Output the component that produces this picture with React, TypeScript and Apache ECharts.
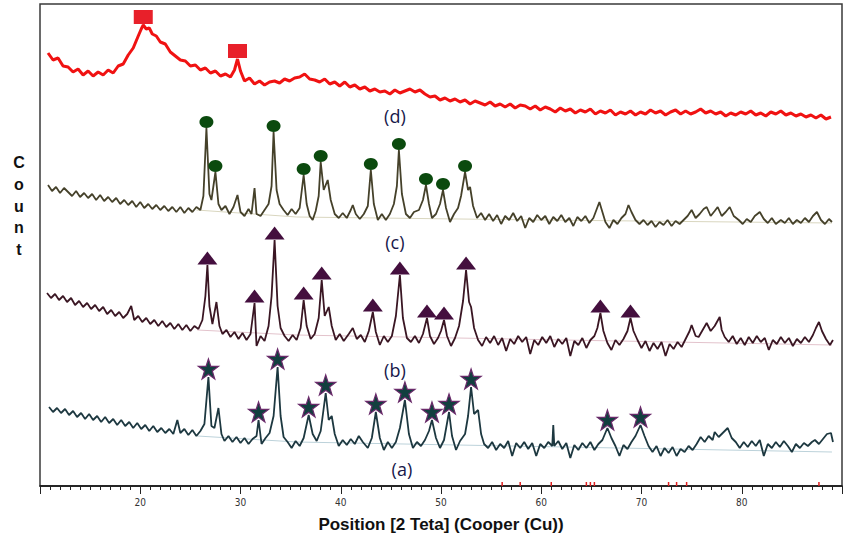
import React, { useEffect, useRef } from 'react';
import * as echarts from 'echarts';

// Counts (arbitrary units, stacked traces)
const traceD: [number, number][] = [
  [10.8, 433], [11.3, 426], [11.8, 428], [12.3, 420], [12.8, 419], [13.3, 414], [13.8, 417], [14.3, 411], [14.8, 415], [15.3, 410],
  [15.8, 414], [16.3, 411], [16.8, 416], [17.3, 413], [17.8, 420], [18.3, 422], [18.8, 431], [19.3, 438], [19.8, 450], [20.1, 457],
  [20.3, 461], [20.6, 457], [20.9, 458], [21.2, 452], [21.6, 450], [22.0, 444], [22.5, 442], [23.0, 434], [23.5, 430], [24.0, 426],
  [24.5, 425], [25.0, 420], [25.5, 421], [26.0, 416], [26.5, 418], [27.0, 413], [27.5, 415], [28.0, 410], [28.5, 412], [29.0, 409],
  [29.4, 416], [29.7, 427], [30.0, 415], [30.4, 405], [30.9, 408], [31.4, 402], [31.9, 405], [32.4, 401], [32.9, 404], [33.4, 405],
  [33.9, 403], [34.4, 407], [34.9, 405], [35.4, 408], [35.9, 409], [36.4, 412], [36.9, 407], [37.4, 406], [37.9, 404], [38.4, 407],
  [38.9, 402], [39.4, 404], [39.9, 400], [40.4, 404], [40.9, 399], [41.4, 401], [41.9, 397], [42.4, 399], [42.9, 395], [43.4, 397],
  [43.9, 394], [44.4, 395], [44.9, 392], [45.4, 396], [45.9, 393], [46.4, 395], [46.9, 397], [47.4, 394], [47.9, 396], [48.4, 392],
  [48.9, 389], [49.4, 390], [49.9, 386], [50.4, 388], [50.9, 385], [51.4, 387], [51.9, 384], [52.4, 386], [52.9, 382], [53.4, 385],
  [53.9, 383], [54.4, 381], [54.9, 384], [55.4, 380], [55.9, 382], [56.4, 379], [56.9, 382], [57.4, 378], [57.9, 381], [58.4, 380],
  [58.9, 377], [59.4, 380], [59.9, 376], [60.4, 379], [60.9, 377], [61.4, 374], [61.9, 378], [62.4, 375], [62.9, 377], [63.4, 373],
  [63.9, 376], [64.4, 374], [64.9, 377], [65.4, 372], [65.9, 375], [66.4, 373], [66.9, 376], [67.4, 371], [67.9, 374], [68.4, 372],
  [68.9, 375], [69.4, 371], [69.9, 374], [70.4, 372], [70.9, 376], [71.4, 373], [71.9, 375], [72.4, 371], [72.9, 374], [73.4, 376],
  [73.9, 372], [74.4, 375], [74.9, 372], [75.4, 374], [75.9, 377], [76.4, 373], [76.9, 375], [77.4, 372], [77.9, 374], [78.4, 370],
  [78.9, 373], [79.4, 371], [79.9, 374], [80.4, 372], [80.9, 375], [81.4, 371], [81.9, 373], [82.4, 370], [82.9, 374], [83.4, 372],
  [83.9, 375], [84.4, 371], [84.9, 373], [85.4, 370], [85.9, 372], [86.4, 369], [86.9, 371], [87.4, 368], [87.9, 371], [88.4, 367],
  [88.9, 369],
];

const traceC: [number, number][] = [
  [10.8, 301], [11.2, 295], [11.6, 299], [12.0, 293], [12.4, 298], [12.8, 294], [13.2, 290], [13.6, 295], [14.0, 289], [14.4, 293],
  [14.8, 288], [15.2, 292], [15.6, 286], [16.0, 291], [16.4, 285], [16.8, 289], [17.2, 284], [17.6, 288], [18.0, 282], [18.4, 286],
  [18.8, 281], [19.2, 285], [19.6, 279], [20.0, 284], [20.4, 278], [20.8, 282], [21.2, 277], [21.6, 281], [22.0, 276], [22.4, 280],
  [22.8, 275], [23.2, 279], [23.6, 274], [24.0, 279], [24.4, 273], [24.8, 278], [25.2, 274], [25.6, 279], [26.0, 276], [26.3, 290],
  [26.6, 358], [26.9, 292], [27.1, 286], [27.5, 314], [27.8, 282], [28.1, 276], [28.5, 280], [28.9, 272], [29.3, 279], [29.7, 291],
  [30.0, 274], [30.4, 270], [30.8, 277], [31.1, 272], [31.4, 298], [31.6, 272], [32.0, 270], [32.4, 276], [32.8, 282], [33.1, 300],
  [33.3, 354], [33.6, 296], [33.9, 282], [34.3, 276], [34.7, 271], [35.1, 277], [35.5, 272], [35.9, 278], [36.3, 311], [36.6, 282],
  [36.9, 270], [37.2, 266], [37.5, 275], [37.8, 290], [38.0, 324], [38.3, 296], [38.7, 306], [39.0, 286], [39.4, 272], [39.8, 268],
  [40.2, 273], [40.6, 268], [41.0, 276], [41.2, 281], [41.5, 272], [41.9, 267], [42.3, 272], [42.7, 280], [43.0, 316], [43.3, 282],
  [43.7, 266], [44.1, 272], [44.5, 266], [44.9, 272], [45.3, 282], [45.6, 300], [45.8, 336], [46.1, 292], [46.5, 272], [46.9, 268],
  [47.3, 274], [47.8, 276], [48.2, 286], [48.5, 301], [48.8, 282], [49.1, 268], [49.5, 272], [49.9, 282], [50.2, 296], [50.5, 278],
  [50.9, 264], [51.3, 272], [51.7, 278], [52.0, 290], [52.4, 314], [52.7, 296], [52.9, 299], [53.2, 280], [53.6, 268], [54.0, 273],
  [54.4, 266], [54.8, 272], [55.2, 265], [55.6, 271], [56.0, 262], [56.4, 270], [56.8, 266], [57.2, 273], [57.6, 265], [58.0, 270],
  [58.4, 258], [58.8, 268], [59.2, 264], [59.6, 271], [60.0, 266], [60.4, 270], [60.8, 262], [61.2, 269], [61.6, 265], [62.0, 271],
  [62.4, 264], [62.8, 268], [63.2, 260], [63.6, 269], [64.0, 265], [64.4, 270], [64.8, 263], [65.2, 268], [65.5, 276], [65.8, 284],
  [66.1, 274], [66.4, 264], [66.8, 258], [67.2, 266], [67.6, 262], [68.0, 268], [68.4, 272], [68.7, 281], [69.0, 274], [69.4, 266],
  [69.8, 262], [70.2, 266], [70.6, 261], [71.0, 265], [71.4, 259], [71.8, 264], [72.2, 261], [72.6, 266], [73.0, 260], [73.4, 265],
  [73.8, 262], [74.2, 266], [74.6, 270], [75.0, 276], [75.4, 268], [75.8, 272], [76.2, 277], [76.5, 279], [76.9, 270], [77.3, 275],
  [77.6, 279], [78.0, 270], [78.4, 274], [78.8, 279], [79.2, 270], [79.7, 266], [80.1, 262], [80.5, 267], [80.9, 264], [81.3, 270],
  [81.8, 274], [82.2, 267], [82.6, 263], [83.0, 268], [83.4, 262], [83.9, 266], [84.3, 263], [84.7, 268], [85.1, 262], [85.5, 266],
  [85.9, 263], [86.3, 268], [86.7, 264], [87.1, 270], [87.5, 274], [87.9, 266], [88.3, 262], [88.7, 267], [89.0, 264],
];

const traceB: [number, number][] = [
  [10.7, 193], [11.1, 188], [11.5, 192], [11.9, 186], [12.3, 190], [12.7, 184], [13.1, 188], [13.5, 181], [13.9, 185], [14.3, 179],
  [14.7, 183], [15.1, 177], [15.5, 181], [15.9, 175], [16.3, 179], [16.7, 172], [17.1, 176], [17.5, 170], [17.9, 174], [18.3, 168],
  [18.7, 172], [19.1, 180], [19.4, 166], [19.8, 170], [20.2, 164], [20.6, 168], [21.0, 162], [21.4, 166], [21.8, 160], [22.2, 165],
  [22.6, 159], [23.0, 163], [23.4, 157], [23.8, 162], [24.2, 156], [24.6, 161], [25.0, 155], [25.4, 160], [25.8, 157], [26.2, 166],
  [26.5, 190], [26.7, 221], [26.9, 180], [27.2, 162], [27.6, 184], [27.9, 160], [28.2, 152], [28.6, 156], [29.0, 149], [29.4, 154],
  [29.8, 147], [30.2, 153], [30.6, 146], [31.0, 152], [31.4, 183], [31.6, 140], [32.0, 150], [32.4, 145], [32.8, 160], [33.1, 190],
  [33.4, 246], [33.7, 180], [34.0, 158], [34.4, 150], [34.8, 145], [35.2, 151], [35.6, 146], [36.0, 158], [36.3, 186], [36.6, 160],
  [37.0, 147], [37.4, 152], [37.8, 168], [38.1, 206], [38.4, 170], [38.8, 179], [39.1, 160], [39.5, 146], [39.9, 152], [40.3, 145],
  [40.8, 152], [41.2, 158], [41.6, 147], [42.0, 151], [42.4, 144], [42.8, 155], [43.2, 174], [43.5, 154], [43.9, 141], [44.3, 150],
  [44.7, 144], [45.1, 150], [45.5, 170], [45.9, 211], [46.2, 168], [46.6, 148], [47.0, 144], [47.4, 150], [47.8, 143], [48.2, 152],
  [48.6, 168], [48.9, 150], [49.3, 142], [49.7, 148], [50.0, 155], [50.3, 166], [50.6, 150], [51.0, 140], [51.4, 148], [51.8, 160],
  [52.2, 185], [52.5, 216], [52.8, 184], [53.0, 179], [53.3, 158], [53.7, 146], [54.1, 140], [54.5, 149], [54.9, 143], [55.3, 150],
  [55.7, 141], [56.1, 148], [56.5, 135], [56.9, 147], [57.3, 142], [57.7, 150], [58.1, 144], [58.5, 149], [58.9, 132], [59.3, 146],
  [59.7, 141], [60.1, 149], [60.5, 143], [60.9, 150], [61.3, 139], [61.7, 147], [62.1, 142], [62.5, 148], [62.9, 130], [63.3, 145],
  [63.7, 141], [64.1, 148], [64.5, 138], [64.9, 146], [65.3, 150], [65.6, 158], [65.9, 173], [66.2, 155], [66.6, 143], [67.0, 136],
  [67.4, 146], [67.8, 141], [68.2, 147], [68.6, 155], [68.9, 168], [69.2, 155], [69.6, 146], [70.0, 138], [70.4, 145], [70.8, 135],
  [71.2, 143], [71.6, 137], [72.0, 144], [72.4, 130], [72.8, 142], [73.2, 137], [73.6, 144], [74.0, 139], [74.4, 147], [74.8, 155],
  [75.0, 161], [75.4, 150], [75.7, 149], [76.1, 156], [76.5, 163], [76.9, 155], [77.3, 160], [77.8, 169], [78.0, 156], [78.3, 149],
  [78.7, 144], [79.1, 150], [79.5, 142], [79.9, 148], [80.3, 141], [80.7, 149], [81.1, 143], [81.5, 150], [81.9, 144], [82.3, 148],
  [82.7, 136], [83.1, 146], [83.5, 142], [83.9, 149], [84.3, 143], [84.7, 148], [85.1, 140], [85.5, 147], [85.9, 143], [86.3, 149],
  [86.7, 144], [87.1, 151], [87.4, 158], [87.7, 164], [88.0, 155], [88.4, 147], [88.8, 141], [89.1, 146],
];

const traceA: [number, number][] = [
  [10.9, 79], [11.3, 74], [11.7, 78], [12.1, 73], [12.5, 77], [12.9, 71], [13.3, 75], [13.7, 69], [14.1, 73], [14.5, 67],
  [14.9, 72], [15.3, 66], [15.7, 70], [16.1, 64], [16.5, 69], [16.9, 63], [17.3, 67], [17.7, 61], [18.1, 66], [18.5, 60],
  [18.9, 64], [19.3, 58], [19.7, 63], [20.1, 57], [20.5, 61], [20.9, 55], [21.3, 60], [21.7, 54], [22.1, 58], [22.5, 53],
  [22.9, 57], [23.3, 52], [23.7, 66], [24.0, 53], [24.4, 57], [24.8, 51], [25.2, 56], [25.6, 50], [26.0, 55], [26.4, 62],
  [26.8, 109], [27.1, 60], [27.4, 58], [27.8, 78], [28.1, 52], [28.4, 45], [28.8, 50], [29.2, 44], [29.6, 49], [30.0, 43],
  [30.4, 48], [30.8, 42], [31.2, 47], [31.6, 50], [31.8, 66], [32.1, 42], [32.5, 48], [32.9, 53], [33.3, 70], [33.7, 119],
  [34.0, 70], [34.3, 49], [34.7, 44], [35.1, 38], [35.5, 45], [35.9, 40], [36.3, 48], [36.8, 71], [37.2, 52], [37.6, 45],
  [38.0, 55], [38.5, 93], [38.8, 66], [39.1, 70], [39.4, 52], [39.8, 40], [40.2, 46], [40.6, 41], [41.0, 47], [41.4, 42],
  [41.8, 50], [42.2, 44], [42.7, 38], [43.1, 48], [43.5, 74], [43.9, 48], [44.3, 36], [44.7, 44], [45.1, 38], [45.5, 44],
  [45.9, 58], [46.4, 86], [46.8, 52], [47.2, 38], [47.6, 44], [48.0, 40], [48.4, 46], [48.8, 55], [49.1, 66], [49.5, 48],
  [49.9, 38], [50.3, 46], [50.8, 74], [51.1, 50], [51.5, 36], [51.9, 45], [52.4, 52], [52.7, 70], [53.0, 99], [53.3, 72],
  [53.7, 76], [54.0, 52], [54.3, 42], [54.7, 38], [55.1, 44], [55.5, 36], [55.9, 42], [56.3, 38], [56.7, 45], [57.1, 30],
  [57.5, 43], [57.9, 38], [58.3, 44], [58.7, 37], [59.1, 43], [59.5, 30], [59.9, 42], [60.3, 38], [60.7, 44], [61.1, 40],
  [61.2, 61], [61.3, 40], [61.7, 45], [62.1, 37], [62.5, 43], [62.9, 28], [63.3, 41], [63.7, 36], [64.1, 43], [64.5, 38],
  [64.9, 44], [65.3, 36], [65.7, 42], [66.1, 46], [66.6, 58], [67.0, 48], [67.4, 40], [67.8, 30], [68.2, 41], [68.6, 37],
  [69.0, 44], [69.4, 50], [69.9, 61], [70.3, 50], [70.7, 40], [71.1, 34], [71.5, 40], [71.9, 30], [72.3, 38], [72.7, 33],
  [73.1, 39], [73.5, 30], [73.9, 37], [74.3, 34], [74.7, 40], [75.1, 36], [75.5, 42], [75.9, 49], [76.3, 44], [76.7, 50],
  [77.1, 46], [77.3, 54], [77.7, 49], [78.1, 53], [78.6, 58], [79.0, 48], [79.4, 44], [79.8, 38], [80.2, 44], [80.6, 39],
  [81.0, 45], [81.4, 40], [81.8, 46], [82.2, 30], [82.6, 42], [83.0, 38], [83.4, 44], [83.8, 39], [84.2, 45], [84.6, 40],
  [85.0, 34], [85.4, 42], [85.8, 38], [86.2, 43], [86.6, 40], [87.0, 44], [87.3, 46], [87.7, 42], [88.1, 47], [88.5, 52],
  [88.9, 53], [89.1, 44],
];

// Fitted backgrounds (faint lines under the traces)
const bgC: [number, number][] = [[25.6, 276], [35.6, 269], [60.0, 266], [89.0, 263]];
const bgB: [number, number][] = [[25.7, 156], [35.6, 151], [89.0, 141]];
const bgA: [number, number][] = [[25.7, 50], [35.6, 44], [89.0, 34]];

// Identified peaks (2θ, count at the peak top)
const peaksD: [number, number][] = [[20.3, 461], [29.7, 427]];
const peaksC: [number, number][] = [
  [26.6, 358], [27.5, 314], [33.3, 354], [36.3, 311], [38.0, 324], [43.0, 316], [45.8, 336], [48.5, 301], [50.2, 296], [52.4, 314],
];
const peaksB: [number, number][] = [
  [26.7, 221], [31.4, 183], [33.4, 246], [36.3, 186], [38.1, 206], [43.2, 174], [45.9, 211], [48.6, 168], [50.3, 166], [52.5, 216],
  [65.9, 173], [68.9, 168],
];
const peaksA: [number, number][] = [
  [26.8, 109], [31.8, 66], [33.7, 119], [36.8, 71], [38.5, 93], [43.5, 74], [46.4, 86], [49.1, 66], [50.8, 74], [53.0, 99],
  [66.6, 58], [69.9, 61],
];

// Reference pattern lines along the axis
const refLines: number[] = [56.1, 57.9, 61.0, 64.5, 64.9, 65.3, 72.7, 73.5, 74.5, 87.7];

// Trace captions
const captions: [number, number, string][] = [
  [45.4, 370, '(d)'],
  [45.4, 244, '(c)'],
  [45.4, 116, '(b)'],
  [46.1, 17, '(a)'],
];

const xTickLabels: number[] = [20, 30, 40, 50, 60, 70, 80];

const lineSeries = (data: [number, number][], color: string, width: number, z = 3) => ({
  type: 'line',
  data,
  showSymbol: false,
  symbol: 'none',
  smooth: false,
  z,
  lineStyle: { color, width, opacity: 1 },
  emphasis: { disabled: true },
  silent: true,
});

const markerSeries = (data: [number, number][], symbol: string, size: any, offset: number, itemStyle: any) => ({
  type: 'scatter',
  data,
  symbol,
  symbolSize: size,
  symbolOffset: [0, offset],
  itemStyle: { opacity: 1, ...itemStyle },
  emphasis: { disabled: true },
  z: 5,
  silent: true,
});

export default function App() {
  const ref = useRef<HTMLDivElement>(null);
  useEffect(() => {
    if (!ref.current) return;
    const chart = echarts.init(ref.current, null, { renderer: 'svg' });
    const option: any = {
      animation: false,
      backgroundColor: '#ffffff',
      grid: {
        left: 40,
        right: -8,
        top: 4,
        bottom: 56,
        show: true,
        borderColor: '#3a3a3a',
        borderWidth: 1.5,
        backgroundColor: 'transparent',
      },
      xAxis: [
        {
          type: 'value',
          min: 10,
          max: 90,
          interval: 10,
          name: 'Position [2 Teta] (Cooper (Cu))',
          nameLocation: 'middle',
          nameGap: 30,
          nameTextStyle: { fontSize: 17, fontWeight: 'bold', color: '#111', fontFamily: 'Liberation Sans, Arial, sans-serif' },
          axisLine: { show: true, onZero: false, lineStyle: { color: '#111', width: 1.5 } },
          axisTick: { show: true, inside: false, length: 8, lineStyle: { color: '#222', width: 1 } },
          minorTick: { show: true, splitNumber: 10, length: 4, lineStyle: { color: '#222', width: 1 } },
          splitLine: { show: false },
          minorSplitLine: { show: false },
          axisLabel: {
            margin: 11,
            fontSize: 10,
            color: '#333',
            fontFamily: 'DejaVu Sans Condensed, Liberation Sans Narrow, sans-serif',
            formatter: (v: number) => (xTickLabels.includes(v) ? String(v) : ''),
          },
        },
      ],
      yAxis: {
        type: 'value',
        min: 0,
        max: 482,
        show: false,
        splitLine: { show: false },
      },
      graphic: [
        {
          type: 'text',
          x: 19,
          y: 152,
          silent: true,
          style: {
            text: 'C\no\nu\nn\nt',
            fontSize: 16,
            fontWeight: 'bold',
            lineHeight: 21.7,
            fill: '#111',
            textAlign: 'center',
            fontFamily: 'Liberation Sans, Arial, sans-serif',
          },
        },
      ],
      series: [
        lineSeries(bgC, '#d9d6bf', 1, 2),
        lineSeries(bgB, '#e3c3cc', 1, 2),
        lineSeries(bgA, '#bcd2da', 1, 2),
        lineSeries(traceD, '#f01212', 3),
        lineSeries(traceC, '#45412a', 1.8),
        lineSeries(traceB, '#3a1623', 1.8),
        lineSeries(traceA, '#1d3840', 1.8),
        markerSeries(peaksD, 'rect', [19, 14], -8, { color: '#e8202a' }),
        markerSeries(peaksC, 'circle', [14, 12], -6, { color: '#0b4a0e' }),
        markerSeries(peaksB, 'triangle', [20, 13], -7, { color: '#440f3e' }),
        markerSeries(
          peaksA,
          'path://M50,0 L61.8,35.3 L99,35.3 L69,57.1 L80.9,95 L50,72 L19.1,95 L31,57.1 L1,35.3 L38.2,35.3 Z',
          20,
          -8,
          { color: '#123f3f', borderColor: '#6a2a6a', borderWidth: 1.2 },
        ),
        {
          type: 'scatter',
          data: refLines.map((x) => [x, 2]),
          symbol: 'rect',
          symbolSize: [1.5, 4],
          itemStyle: { color: '#e02020', opacity: 1 },
          z: 4,
          silent: true,
        },
        {
          type: 'scatter',
          data: captions.map((c) => ({ value: [c[0], c[1]], name: c[2] })),
          symbolSize: 0,
          z: 6,
          silent: true,
          itemStyle: { opacity: 1 },
          label: {
            show: true,
            position: 'inside',
            formatter: (p: any) => p.name,
            fontSize: 18,
            color: '#17174a',
            opacity: 1,
            fontFamily: 'Open Sans, Noto Sans, sans-serif',
          },
        },
      ],
    };
    chart.setOption(option);
    return () => chart.dispose();
  }, []);
  return (
    <div
      ref={ref}
      style={{ position: 'fixed', left: 0, top: 0, width: 845, height: 542, background: '#ffffff' }}
    />
  );
}
